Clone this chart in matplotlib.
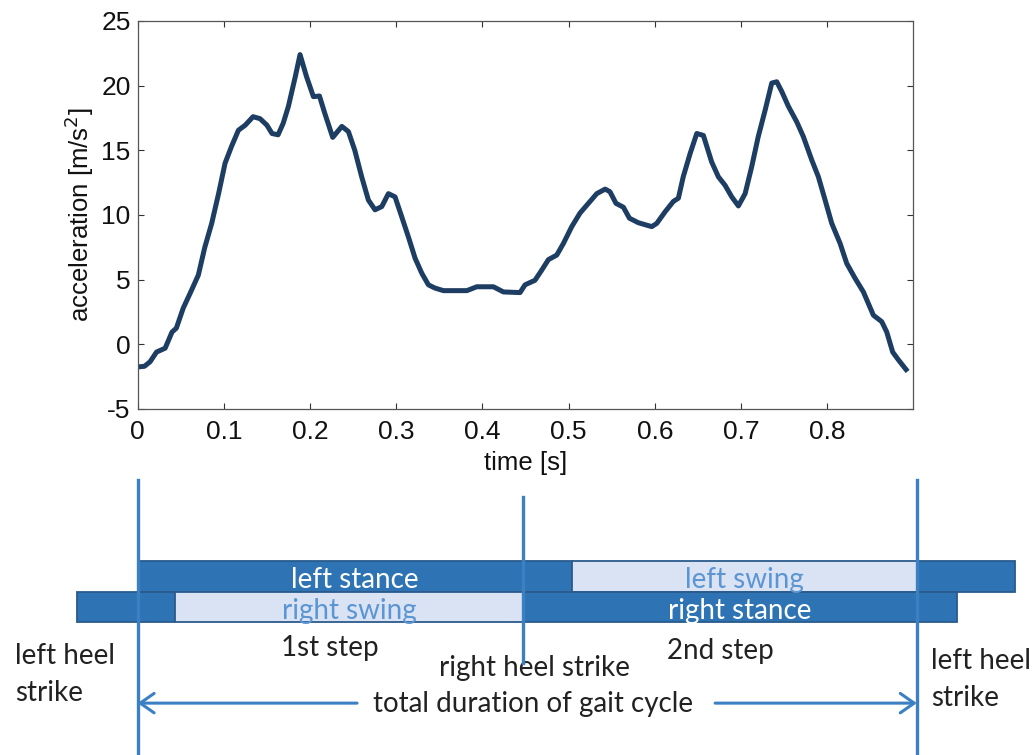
import numpy as np
import matplotlib
matplotlib.use("Agg")
import matplotlib.pyplot as plt

plt.rcParams["axes.unicode_minus"] = False

# vertical acceleration over one gait cycle
time_s = [0.000, 0.008, 0.0145, 0.022, 0.032, 0.040, 0.045, 0.053, 0.061, 0.0705,
          0.078, 0.086, 0.094, 0.1015, 0.109, 0.117, 0.125, 0.134, 0.142, 0.150,
          0.156, 0.163, 0.169, 0.175, 0.183, 0.1885, 0.196, 0.204, 0.211, 0.2175,
          0.2264, 0.237, 0.2446, 0.252, 0.260, 0.2678, 0.2755, 0.2833, 0.291, 0.2987,
          0.3065, 0.3142, 0.322, 0.3297, 0.3374, 0.345, 0.3548, 0.382, 0.3935, 0.4128,
          0.4244, 0.4437, 0.4495, 0.461, 0.469, 0.4766, 0.4863, 0.494, 0.5037, 0.5133,
          0.523, 0.5327, 0.5424, 0.548, 0.555, 0.5636, 0.5706, 0.581, 0.5965, 0.6023,
          0.612, 0.6216, 0.6274, 0.633, 0.641, 0.6487, 0.6564, 0.666, 0.6738, 0.6815,
          0.6893, 0.697, 0.7048, 0.7125, 0.720, 0.728, 0.7357, 0.7415, 0.7473, 0.755,
          0.7647, 0.7724, 0.7821, 0.7898, 0.7976, 0.8053, 0.815, 0.8227, 0.8324, 0.842,
          0.8478, 0.8536, 0.8633, 0.8691, 0.876, 0.8826, 0.8915]
accel = [-1.75, -1.7, -1.35, -0.6, -0.3, 0.95, 1.25, 2.8, 3.95, 5.35,
         7.5, 9.35, 11.65, 14.0, 15.3, 16.55, 16.95, 17.6, 17.45, 16.95,
         16.3, 16.2, 17.1, 18.4, 20.7, 22.4, 20.7, 19.15, 19.2, 17.8,
         16.0, 16.85, 16.45, 15.0, 12.95, 11.15, 10.4, 10.65, 11.65, 11.4,
         9.85, 8.3, 6.65, 5.5, 4.6, 4.35, 4.15, 4.15, 4.45, 4.45,
         4.05, 4.0, 4.6, 4.95, 5.75, 6.55, 6.9, 7.8, 9.1, 10.15,
         10.9, 11.65, 12.0, 11.8, 10.9, 10.6, 9.75, 9.4, 9.1, 9.35,
         10.25, 11.05, 11.3, 12.95, 14.75, 16.3, 16.15, 14.1, 12.95, 12.3,
         11.4, 10.7, 11.65, 13.75, 16.05, 18.1, 20.2, 20.3, 19.55, 18.4,
         17.2, 16.05, 14.25, 12.95, 11.15, 9.35, 7.8, 6.25, 5.1, 4.05,
         3.15, 2.25, 1.75, 0.95, -0.6, -1.2, -1.95]

# gait events (s)
left_heel_strikes = [0.0, 0.904]
right_heel_strike = 0.447

# stance / swing phases per foot: start, end, label, kind
left_start = [0.0, 0.5036, 0.904]
left_end = [0.5036, 0.904, 1.018]
left_labels = ["left stance", "left swing", ""]
left_kind = ["stance", "swing", "stance"]

right_start = [-0.0705, 0.0435, 0.447]
right_end = [0.0435, 0.447, 0.951]
right_labels = ["", "right swing", "right stance"]
right_kind = ["stance", "swing", "stance"]

xticks = [0, 0.1, 0.2, 0.3, 0.4, 0.5, 0.6, 0.7, 0.8]
yticks = [-5, 0, 5, 10, 15, 20, 25]

DARK = "#2e74b5"
LIGHT = "#dae3f3"
EDGE = "#2a5b8c"
LINE = "#3a80c3"
SWING_TXT = "#5b95d2"
CURVE = "#1d3d63"

fig = plt.figure(figsize=(10.35, 7.55), dpi=100)

# ---- acceleration plot ----
ax = fig.add_axes([0.1329, 0.4583, 0.7496, 0.5139])
ax.plot(time_s, accel, color=CURVE, lw=3.6, solid_joinstyle="round")
ax.set_xlim(0, 0.9)
ax.set_ylim(-5, 25)
ax.set_xticks(xticks)
ax.set_xticklabels(["0", "0.1", "0.2", "0.3", "0.4", "0.5", "0.6", "0.7", "0.8"])
ax.set_yticks(yticks)
ax.tick_params(direction="in", length=4.5, width=0.8, top=True, right=True,
               labelsize=19, colors="#333333", labelcolor="#111111")
ax.tick_params(axis="x", pad=8)
ax.tick_params(axis="y", pad=5)
for s in ax.spines.values():
    s.set_color("#555555")
    s.set_linewidth(0.9)
for lab in ax.get_xticklabels() + ax.get_yticklabels():
    lab.set_family("Liberation Sans")
ax.set_xlabel("time [s]", fontsize=18.5, family="Liberation Sans", labelpad=5,
              color="#111111")
ax.set_ylabel("acceleration [m/s$^2$]", fontsize=18.5, family="Liberation Sans",
              labelpad=4, color="#111111")

# ---- gait cycle diagram ----
dx = fig.add_axes([0.1329, 0.0, 0.7496, 0.3775])
dx.set_xlim(0, 0.9)
dx.set_ylim(-4.85, 4.49)
dx.axis("off")

font = "Lato"
fs = 20
TXT = "#222222"


def draw_row(y, starts, ends, labels, kinds):
    for s, e, lab, k in zip(starts, ends, labels, kinds):
        dx.barh(y, e - s, left=s, height=1.0, color=DARK if k == "stance" else LIGHT,
                edgecolor=EDGE, linewidth=1.3, clip_on=False, zorder=2)
        if lab:
            dx.text((s + e) / 2, y - 0.12, lab, ha="center", va="center",
                    fontsize=fs, family=font,
                    color="white" if k == "stance" else SWING_TXT, zorder=3)


draw_row(1, left_start, left_end, left_labels, left_kind)
draw_row(0, right_start, right_end, right_labels, right_kind)

# heel strike markers
for t in left_heel_strikes:
    dx.plot([t, t], [4.16, -4.85], color=LINE, lw=2.4, clip_on=False, zorder=4)
dx.plot([right_heel_strike, right_heel_strike], [3.62, -1.84], color=LINE, lw=2.4,
        clip_on=False, zorder=4)

dx.text(-0.142, -1.62, "left heel", fontsize=fs, family=font, va="center",
        ha="left", color=TXT)
dx.text(-0.142, -2.82, "strike", fontsize=fs, family=font, va="center",
        ha="left", color=TXT)
dx.text(0.920, -1.76, "left heel", fontsize=fs, family=font, va="center",
        ha="left", color=TXT)
dx.text(0.920, -2.97, "strike", fontsize=fs, family=font, va="center",
        ha="left", color=TXT)
dx.text(0.2225, -1.35, "1st step", fontsize=fs, family=font, va="center",
        ha="center", color=TXT)
dx.text(0.676, -1.45, "2nd step", fontsize=fs, family=font, va="center",
        ha="center", color=TXT)
dx.text(right_heel_strike + 0.013, -2.0, "right heel strike", fontsize=fs,
        family=font, va="center", ha="center", color=TXT)

cycle = left_heel_strikes[1] - left_heel_strikes[0]
mid = left_heel_strikes[0] + cycle * 0.507
dx.text(mid, -3.18, "total duration of gait cycle", fontsize=fs, family=font,
        va="center", ha="center", color=TXT)
arrow = dict(arrowstyle="->,head_length=0.5,head_width=0.35", color=LINE, lw=2.2,
             mutation_scale=20, shrinkA=0, shrinkB=0)
dx.annotate("", xy=(left_heel_strikes[0], -3.15), xytext=(0.2546, -3.15),
            arrowprops=arrow, annotation_clip=False)
dx.annotate("", xy=(left_heel_strikes[1], -3.15), xytext=(0.670, -3.15),
            arrowprops=arrow, annotation_clip=False)

fig.savefig("out.png", dpi=100)
